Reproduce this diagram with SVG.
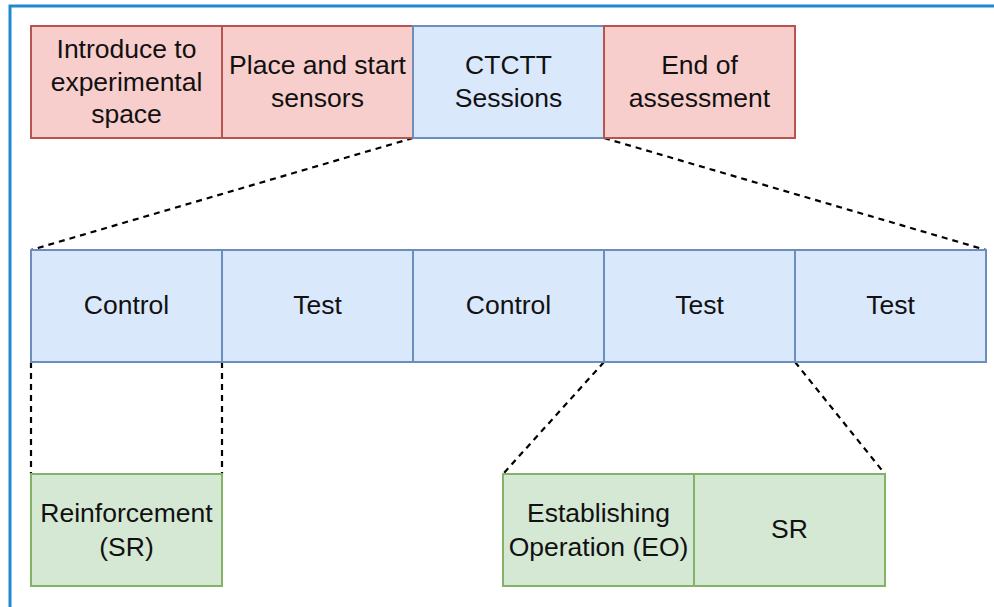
<svg xmlns="http://www.w3.org/2000/svg" width="994" height="607" viewBox="0 0 994 607">
<style>
text{font-family:"Liberation Sans",Arial,sans-serif;font-size:26.5px;fill:#111;text-anchor:middle}
.r{fill:#f8cecc;stroke:#b85450;stroke-width:2}
.b{fill:#dae8fc;stroke:#6c8ebf;stroke-width:2}
.g{fill:#d5e8d4;stroke:#82b366;stroke-width:2}
.d{stroke:#000;stroke-width:2.2;stroke-dasharray:6 5;fill:none}
</style>
<rect x="0" y="0" width="994" height="607" fill="#fff"/>
<path d="M10 607V6H994" fill="none" stroke="#1e8bcd" stroke-width="3"/>
<g id="connectors">
<line class="d" x1="413" y1="138" x2="31" y2="250"/>
<line class="d" x1="604" y1="138" x2="986" y2="250"/>
<line class="d" x1="31" y1="362" x2="31" y2="474"/>
<line class="d" x1="222" y1="362" x2="222" y2="474"/>
<line class="d" x1="604" y1="362" x2="503" y2="474"/>
<line class="d" x1="795" y1="362" x2="885" y2="474"/>
</g>
<g id="n1"><rect class="r" x="31" y="26" width="191" height="112"/><text x="126.5" y="58">Introduce to</text><text x="126.5" y="90.5">experimental</text><text x="126.5" y="123">space</text></g>
<g id="n2"><rect class="r" x="222" y="26" width="191" height="112"/><text x="317.5" y="74">Place and start</text><text x="317.5" y="107">sensors</text></g>
<g id="n3"><rect class="b" x="413" y="26" width="191" height="112"/><text x="508.5" y="74">CTCTT</text><text x="508.5" y="107">Sessions</text></g>
<g id="n4"><rect class="r" x="604" y="26" width="191" height="112"/><text x="699.5" y="74">End of</text><text x="699.5" y="107">assessment</text></g>
<g id="m1"><rect class="b" x="31" y="250" width="191" height="112"/><text x="126.5" y="314">Control</text></g>
<g id="m2"><rect class="b" x="222" y="250" width="191" height="112"/><text x="317.5" y="314">Test</text></g>
<g id="m3"><rect class="b" x="413" y="250" width="191" height="112"/><text x="508.5" y="314">Control</text></g>
<g id="m4"><rect class="b" x="604" y="250" width="191" height="112"/><text x="699.5" y="314">Test</text></g>
<g id="m5"><rect class="b" x="795" y="250" width="191" height="112"/><text x="890.5" y="314">Test</text></g>
<g id="b1"><rect class="g" x="31" y="474" width="191" height="112"/><text x="126.5" y="522">Reinforcement</text><text x="126.5" y="555.5">(SR)</text></g>
<g id="b2"><rect class="g" x="503" y="474" width="191" height="112"/><text x="598.5" y="522">Establishing</text><text x="598.5" y="555.5">Operation (EO)</text></g>
<g id="b3"><rect class="g" x="694" y="474" width="191" height="112"/><text x="789.5" y="537.5">SR</text></g>
</svg>
